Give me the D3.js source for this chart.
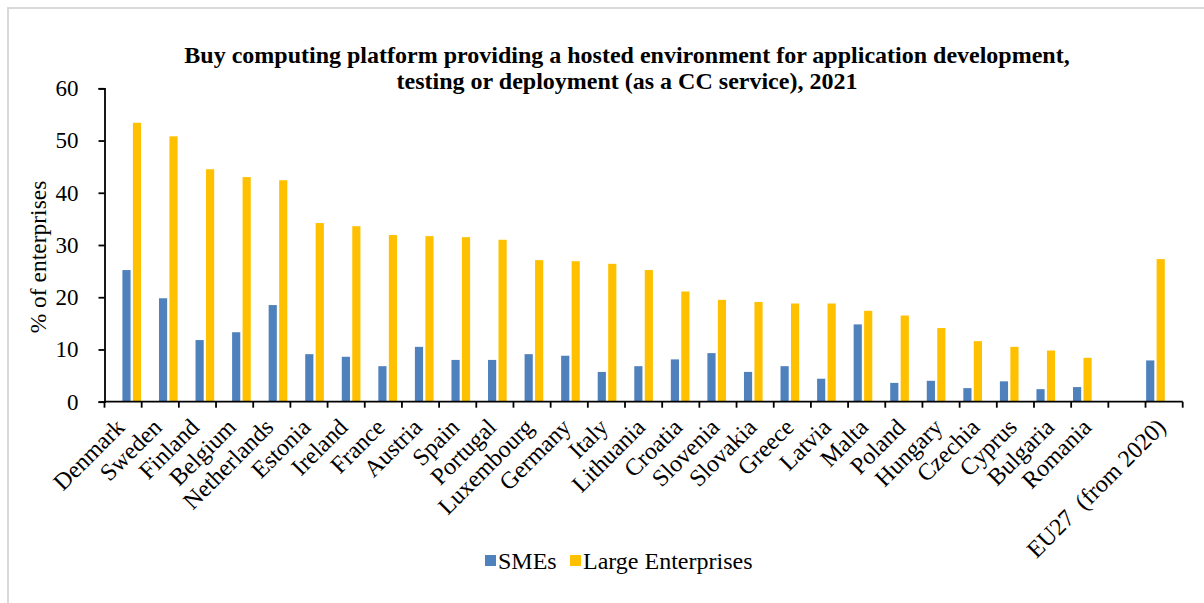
<!DOCTYPE html>
<html>
<head>
<meta charset="utf-8">
<script src="https://cdn.jsdelivr.net/npm/d3@7"></script>
<style>
  html, body { margin: 0; padding: 0; background: #fff; }
  svg { display: block; }
  text { font-family: "Liberation Serif", "Times New Roman", serif; fill: #000; white-space: pre; }
</style>
</head>
<body>
<svg id="chart" width="1204" height="603"></svg>
<script>
// Cloud computing: share of enterprises buying a hosted platform (PaaS), 2021
const categories = ["Denmark", "Sweden", "Finland", "Belgium", "Netherlands", "Estonia", "Ireland",
  "France", "Austria", "Spain", "Portugal", "Luxembourg", "Germany", "Italy", "Lithuania",
  "Croatia", "Slovenia", "Slovakia", "Greece", "Latvia", "Malta", "Poland", "Hungary",
  "Czechia", "Cyprus", "Bulgaria", "Romania", "", "EU27  (from 2020)"];

const smes = [25.2, 19.8, 11.8, 13.3, 18.5, 9.1, 8.6, 6.8, 10.5, 8.0, 8.0, 9.1, 8.8, 5.7, 6.8,
  8.1, 9.3, 5.7, 6.8, 4.4, 14.8, 3.6, 4.0, 2.6, 3.9, 2.4, 2.8, null, 7.9];

const large = [53.4, 50.8, 44.5, 43.0, 42.4, 34.2, 33.6, 31.9, 31.7, 31.5, 31.0, 27.1, 26.9, 26.4, 25.2,
  21.1, 19.5, 19.1, 18.8, 18.8, 17.4, 16.5, 14.1, 11.6, 10.5, 9.8, 8.4, null, 27.3];

const seriesNames = ["SMEs", "Large Enterprises"];
const seriesColors = ["#4F81BD", "#FFC000"];
const yTicks = [0, 10, 20, 30, 40, 50, 60];

const titleLines = [
  "Buy computing platform providing a hosted environment for application development,",
  "testing or deployment (as a CC service), 2021"
];

const svg = d3.select("#chart");

// Chart area frame (top and left edges visible)
svg.append("path")
  .attr("d", "M8,603 L8,8 L1204,8")
  .attr("fill", "none")
  .attr("stroke", "#d9d9d9")
  .attr("stroke-width", 2);

const plot = { left: 104.5, right: 1182.7, top: 88.3, bottom: 401.7 };

const x = d3.scaleBand()
  .domain(d3.range(categories.length))
  .range([plot.left, plot.right])
  .padding(0.49);

const xSlot = d3.scaleBand()
  .domain(d3.range(categories.length))
  .range([plot.left, plot.right])
  .padding(0);

const xInner = d3.scaleBand()
  .domain([0, 1])
  .range([0, x.bandwidth()])
  .paddingInner(0.22);

const y = d3.scaleLinear().domain([0, 60]).range([plot.bottom, plot.top]);

// Title
const title = svg.append("text")
  .attr("text-anchor", "middle")
  .attr("font-weight", "bold")
  .attr("font-size", 24);
titleLines.forEach((line, i) => {
  title.append("tspan")
    .attr("x", 627)
    .attr("y", 63 + i * 26)
    .text(line);
});

// Bars
const rows = categories.map((c, i) => ({ i, values: [smes[i], large[i]] }));
const groups = svg.append("g").selectAll("g")
  .data(rows)
  .join("g")
  .attr("transform", d => `translate(${x(d.i)},0)`);

groups.selectAll("rect")
  .data(d => d.values.map((v, s) => ({ v, s })).filter(e => e.v != null))
  .join("rect")
  .attr("x", e => xInner(e.s))
  .attr("width", xInner.bandwidth())
  .attr("y", e => y(e.v))
  .attr("height", e => y(0) - y(e.v))
  .attr("fill", e => seriesColors[e.s]);

// Y axis
const yAxis = svg.append("g")
  .attr("transform", `translate(${plot.left},0)`)
  .call(d3.axisLeft(y).tickValues(yTicks).tickSize(6).tickPadding(20).tickFormat(d3.format("d")));
yAxis.select(".domain").attr("stroke", "#000").attr("stroke-width", 1.8);
yAxis.selectAll(".tick line").attr("stroke", "#000").attr("stroke-width", 1.8);
yAxis.selectAll(".tick text")
  .attr("font-family", "Liberation Serif, Times New Roman, serif")
  .attr("font-size", 23)
  .attr("fill", "#000");

// X axis: ticks at slot boundaries
const boundaries = d3.range(categories.length + 1).map(i => i === categories.length ? plot.right : xSlot(i));
const xAxisG = svg.append("g");
xAxisG.append("line")
  .attr("x1", plot.left).attr("x2", plot.right)
  .attr("y1", plot.bottom).attr("y2", plot.bottom)
  .attr("stroke", "#000").attr("stroke-width", 1.8);
xAxisG.selectAll("line.tick")
  .data(boundaries)
  .join("line")
  .attr("class", "tick")
  .attr("x1", d => d).attr("x2", d => d)
  .attr("y1", plot.bottom).attr("y2", plot.bottom + 6)
  .attr("stroke", "#000").attr("stroke-width", 1.8);

// Category labels, rotated
xAxisG.selectAll("text")
  .data(categories.map((c, i) => ({ c, i })).filter(d => d.c !== ""))
  .join("text")
  .attr("transform", d => `translate(${xSlot(d.i) + xSlot.bandwidth() / 2 - 3},${plot.bottom + 21}) rotate(-45)`)
  .attr("text-anchor", "end")
  .attr("dy", "0.35em")
  .attr("font-size", 24)
  .text(d => d.c);

// Y axis title
svg.append("text")
  .attr("transform", "translate(46,257) rotate(-90)")
  .attr("text-anchor", "middle")
  .attr("font-size", 23.5)
  .text("% of enterprises");

// Legend
const legendItems = [
  { name: seriesNames[0], color: seriesColors[0], x: 485 },
  { name: seriesNames[1], color: seriesColors[1], x: 570 }
];
const legend = svg.append("g").selectAll("g")
  .data(legendItems)
  .join("g")
  .attr("transform", d => `translate(${d.x},555)`);
legend.append("rect")
  .attr("width", 11).attr("height", 11)
  .attr("fill", d => d.color);
legend.append("text")
  .attr("x", 13)
  .attr("y", 14)
  .attr("font-size", 24)
  .text(d => d.name);
</script>
</body>
</html>
